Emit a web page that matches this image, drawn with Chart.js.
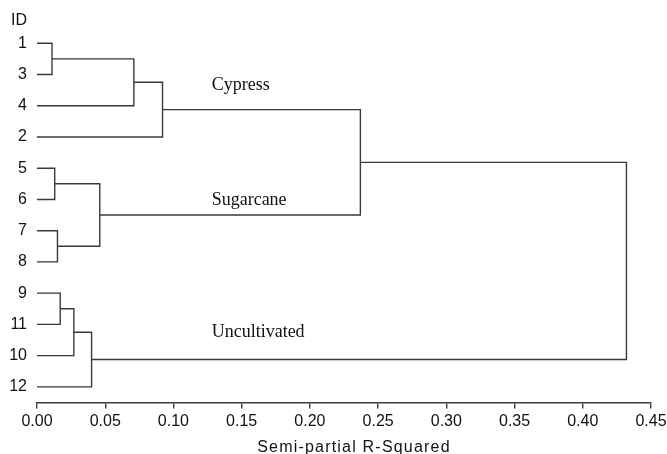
<!DOCTYPE html>
<html>
<head>
<meta charset="utf-8">
<script src="https://cdn.jsdelivr.net/npm/chart.js@4.4.0/dist/chart.umd.min.js"></script>
<style>
  html, body { margin: 0; padding: 0; background: #ffffff; }
  #wrap { width: 667px; height: 454px; }
</style>
</head>
<body>
<div id="wrap"><canvas id="c" width="667" height="454"></canvas></div>
<script>
// ---- Data ----
// Leaf IDs in dendrogram order (top to bottom)
const leafIds = ['1', '3', '4', '2', '5', '6', '7', '8', '9', '11', '10', '12'];
// Merges: node indices 0..11 are leaves; each merge creates node 12, 13, ...
const mergeLeft   = [0, 12, 13, 4, 6, 15, 8, 18, 19, 14, 21];
const mergeRight  = [1, 2, 3, 5, 7, 16, 9, 10, 11, 17, 20];
const mergeHeight = [0.011, 0.071, 0.092, 0.013, 0.015, 0.046, 0.017, 0.027, 0.040, 0.237, 0.432];
// Cluster names
const groupNames = ['Cypress', 'Sugarcane', 'Uncultivated'];
// X-axis tick labels
const xTickValues = [0, 0.05, 0.10, 0.15, 0.20, 0.25, 0.30, 0.35, 0.40, 0.45];
const xTickLabels = ['0.00', '0.05', '0.10', '0.15', '0.20', '0.25', '0.30', '0.35', '0.40', '0.45'];
const yHeaderLabel = 'ID';
const xTitle = 'Semi-partial R-Squared';

// ---- Layout / style (not data) ----
const groupLabelPos = [ {x: 0.128, y: 1.49}, {x: 0.128, y: 5.17}, {x: 0.128, y: 9.40} ];
const headerPos = -0.72;
const lineColor = '#3a3a3a';

// ---- Build dendrogram segments from merge table ----
const nodeY = leafIds.map((_, i) => i);
const nodeH = leafIds.map(() => 0);
const datasets = [];
for (let m = 0; m < mergeHeight.length; m++) {
  const a = mergeLeft[m], b = mergeRight[m], h = mergeHeight[m];
  datasets.push({
    data: [
      {x: nodeH[a], y: nodeY[a]},
      {x: h, y: nodeY[a]},
      {x: h, y: nodeY[b]},
      {x: nodeH[b], y: nodeY[b]}
    ],
    showLine: true,
    borderColor: lineColor,
    borderWidth: 1.4,
    pointRadius: 0,
    tension: 0,
    fill: false
  });
  nodeY.push((nodeY[a] + nodeY[b]) / 2);
  nodeH.push(h);
}

const yTickValues = [headerPos].concat(leafIds.map((_, i) => i));
const yTickLabels = [yHeaderLabel].concat(leafIds);

const textPlugin = {
  id: 'textLabels',
  afterDraw(chart) {
    const {ctx, chartArea, scales: {x, y}} = chart;
    ctx.save();
    ctx.font = '18px "Liberation Serif", "Times New Roman", serif';
    ctx.fillStyle = '#111';
    ctx.textAlign = 'left';
    ctx.textBaseline = 'alphabetic';
    groupNames.forEach((name, i) => {
      ctx.fillText(name, x.getPixelForValue(groupLabelPos[i].x), y.getPixelForValue(groupLabelPos[i].y));
    });
    // x-axis title
    ctx.font = '16px "Liberation Sans", Arial, sans-serif';
    if ('letterSpacing' in ctx) ctx.letterSpacing = '1.2px';
    ctx.textAlign = 'center';
    ctx.fillText(xTitle, (chartArea.left + chartArea.right) / 2 + 10, 451.5);
    ctx.restore();
  }
};

const sansFont = {family: '"Liberation Sans", Arial, sans-serif', size: 16};

new Chart(document.getElementById('c'), {
  type: 'scatter',
  data: { datasets },
  plugins: [textPlugin],
  options: {
    responsive: false,
    animation: false,
    devicePixelRatio: 1,
    layout: { padding: { top: 12, right: 16, bottom: 0, left: 0 } },
    plugins: { legend: { display: false }, tooltip: { enabled: false } },
    scales: {
      x: {
        type: 'linear',
        min: 0,
        max: 0.45,
        afterBuildTicks(scale) { scale.ticks = xTickValues.map(v => ({value: v})); },
        afterFit(scale) { scale.height = 51.5; scale.paddingLeft = 0; scale.paddingRight = 0; },
        ticks: {
          autoSkip: false,
          maxRotation: 0,
          padding: 3,
          color: '#111',
          font: sansFont,
          callback: (v, i) => xTickLabels[i]
        },
        grid: { display: true, drawOnChartArea: false, drawTicks: true, tickLength: 6, color: lineColor, lineWidth: 1.4 },
        border: { display: true, color: lineColor, width: 1.4 },
        title: { display: false, text: xTitle }
      },
      y: {
        type: 'linear',
        reverse: true,
        min: -1,
        max: 11.5,
        afterBuildTicks(scale) { scale.ticks = yTickValues.map(v => ({value: v})); },
        afterFit(scale) { scale.width = 37; scale.paddingTop = 0; scale.paddingBottom = 0; },
        ticks: {
          autoSkip: false,
          padding: 10,
          color: '#111',
          font: sansFont,
          callback: (v, i) => yTickLabels[i]
        },
        grid: { display: false, drawTicks: false },
        border: { display: false }
      }
    }
  }
});
</script>
</body>
</html>
